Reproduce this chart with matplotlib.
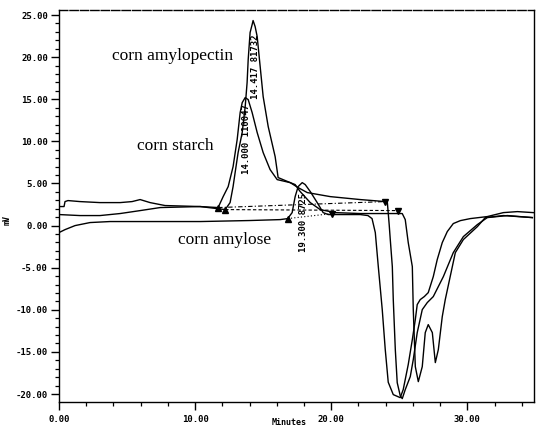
import matplotlib
matplotlib.use("Agg")
import matplotlib.pyplot as plt
from matplotlib.ticker import MultipleLocator, FormatStrFormatter

# ---- data (minutes, mV) ----
amylose_t = [0.0, 0.44, 1.18, 2.28, 3.75, 6.7, 10.4, 14.0, 16.25, 16.8, 17.13, 17.35, 17.57,
             17.87, 18.09, 18.46, 18.97, 19.41, 19.78, 20.07, 22.13, 22.7, 23.0, 23.24, 23.46,
             23.75, 23.97, 24.19, 24.56, 25.07, 25.29, 25.66, 25.96, 26.18, 26.32, 26.54, 26.84,
             27.13, 27.5, 27.79, 28.16, 28.53, 28.97, 29.49, 30.22, 31.47, 32.65, 33.68, 34.85]
amylose_mv = [-0.83, -0.48, 0.0, 0.36, 0.48, 0.48, 0.48, 0.6, 0.71, 0.83, 1.54, 3.44, 4.63,
              5.1, 4.87, 4.04, 2.73, 1.54, 1.31, 1.31, 1.31, 1.19, 0.83, -0.83, -4.87,
              -9.98, -14.7, -18.6, -20.07, -20.43, -19.48, -16.5, -13.54, -11.16, -9.38, -8.79, -8.43,
              -7.96, -6.06, -4.04, -2.02, -0.71, 0.24, 0.59, 0.83, 1.07, 1.54, 1.66, 1.54]

starch_t = [0.0, 0.37, 0.44, 0.66, 1.54, 3.01, 4.49, 5.37, 5.96, 6.69, 7.79, 10.37, 11.69,
            12.06, 12.43, 12.79, 13.09, 13.31, 13.46, 13.68, 13.9, 14.19, 14.56, 15.0, 15.51,
            16.03, 16.99, 17.57, 18.24, 19.93, 22.13, 23.97, 24.12, 24.26, 24.34, 24.49, 24.56,
            24.71, 24.85, 25.07, 25.22, 25.44, 25.81, 26.03, 26.32, 26.69, 27.06, 27.5, 28.24,
            28.97, 29.71, 30.74, 31.47, 32.94, 34.78]
starch_mv = [2.26, 2.26, 2.85, 2.97, 2.85, 2.73, 2.73, 2.85, 3.09, 2.73, 2.38, 2.26, 2.14,
             3.44, 4.63, 7.0, 10.21, 13.42, 14.6, 15.2, 14.96, 13.42, 11.05, 8.67, 6.65,
             5.46, 5.1, 4.51, 3.92, 3.44, 3.09, 2.85, 2.85, 0.12, -1.66, -4.87, -8.79,
             -14.73, -18.65, -20.19, -20.55, -19.48, -17.93, -15.91, -12.71, -9.98, -9.14, -8.43, -6.06,
             -3.21, -1.31, 0.12, 0.95, 1.19, 0.95]

amylopectin_t = [0.0, 1.54, 3.01, 4.49, 5.96, 7.43, 10.37, 12.21, 12.57, 12.79, 12.94, 13.16,
                 13.46, 13.68, 13.82, 13.9, 14.04, 14.19, 14.26, 14.41, 14.56, 14.78, 15.0, 15.37,
                 15.88, 16.1, 16.99, 17.35, 17.72, 18.46, 19.19, 20.29, 22.13, 25.07, 25.22, 25.44,
                 25.66, 25.96, 26.03, 26.18, 26.4, 26.69, 26.91, 27.13, 27.43, 27.65, 27.87, 28.16,
                 28.38, 29.12, 29.71, 30.74, 31.32, 32.65, 34.78]
amylopectin_mv = [1.31, 1.19, 1.19, 1.43, 1.78, 2.14, 2.26, 1.9, 2.73, 4.63, 6.29, 8.67,
                  11.05, 14.13, 16.98, 19.71, 22.92, 23.87, 24.35, 23.63, 22.45, 18.88, 15.32, 11.76,
                  8.19, 5.7, 5.1, 4.87, 4.04, 2.73, 1.9, 1.54, 1.43, 1.43, 1.43, 0.71,
                  -2.02, -4.87, -9.98, -16.75, -18.53, -16.75, -12.71, -11.76, -12.71, -16.27, -14.73, -10.81,
                  -8.79, -3.21, -1.66, -0.12, 0.95, 1.19, 0.95]

# integration baselines: (start t, start mV, end t, end mV)
starch_base = [11.69, 2.14, 23.97, 2.85]
amylopectin_base = [12.21, 1.9, 24.93, 1.78]
amylose_base = [16.8, 0.83, 20.07, 1.43]

peak_labels = ["14.000 110047", "14.417 81732", "19.300 8725"]
sample_names = ["corn amylopectin", "corn starch", "corn amylose"]

fig = plt.figure(figsize=(5.37, 4.29), dpi=100)
ax = fig.add_axes([0.1099, 0.0629, 0.8845, 0.9138])

lw = 1.0
ax.plot(amylose_t, amylose_mv, color="black", lw=lw)
ax.plot(starch_t, starch_mv, color="black", lw=lw)
ax.plot(amylopectin_t, amylopectin_mv, color="black", lw=lw)

# baselines and markers
for base, ls in [(starch_base, (0, (4, 2, 1, 2))), (amylopectin_base, (0, (3, 2))),
                 (amylose_base, (0, (1, 2)))]:
    ax.plot([base[0], base[2]], [base[1], base[3]], color="black", lw=0.8, ls=ls)
    ax.plot([base[0]], [base[1]], marker="^", color="black", ms=4, ls="none")
    ax.plot([base[2]], [base[3]], marker="v", color="black", ms=4, ls="none")

mono = dict(family="DejaVu Sans Mono", fontsize=6.5, fontweight="bold")
ax.text(13.75, 6.1, peak_labels[0], rotation=90, ha="center", va="bottom", **mono)
ax.text(14.45, 15.0, peak_labels[1], rotation=90, ha="center", va="bottom", **mono)
ax.text(18.0, -3.1, peak_labels[2], rotation=90, ha="center", va="bottom", **mono)

serif = dict(family="Liberation Serif", fontsize=12.5)
ax.text(8.35, 20.1, sample_names[0], ha="center", va="center", **serif)
ax.text(8.55, 9.5, sample_names[1], ha="center", va="center", **serif)
ax.text(12.2, -1.7, sample_names[2], ha="center", va="center", **serif)

ax.set_xlim(0, 34.9)
ax.set_ylim(-20.95, 25.6)

ax.xaxis.set_major_locator(MultipleLocator(10))
ax.xaxis.set_minor_locator(MultipleLocator(2))
ax.yaxis.set_major_locator(MultipleLocator(5))
ax.yaxis.set_minor_locator(MultipleLocator(1))
ax.xaxis.set_major_formatter(FormatStrFormatter("%.2f"))
ax.yaxis.set_major_formatter(FormatStrFormatter("%.2f"))
ax.tick_params(which="major", direction="out", length=6, width=1.0, pad=2)
ax.tick_params(which="minor", direction="out", length=3, width=0.9)
ax.tick_params(axis="x", which="major", pad=3)
for lab in ax.get_xticklabels() + ax.get_yticklabels():
    lab.set_family("DejaVu Sans Mono")
    lab.set_fontsize(6.5)
    lab.set_fontweight("bold")

for s in ax.spines.values():
    s.set_linewidth(1.0)
ax.spines["top"].set_linestyle((0, (6, 1.5)))

ax.set_xlabel("Minutes", family="DejaVu Sans Mono", fontsize=6, fontweight="bold")
ax.xaxis.label.set_va("center")
ax.xaxis.set_label_coords(0.484, -0.053)
ax.set_ylabel("mV", family="DejaVu Sans Mono", fontsize=6, fontweight="bold")
ax.yaxis.set_label_coords(-0.099, 0.464)

fig.savefig("out.png", dpi=100)
